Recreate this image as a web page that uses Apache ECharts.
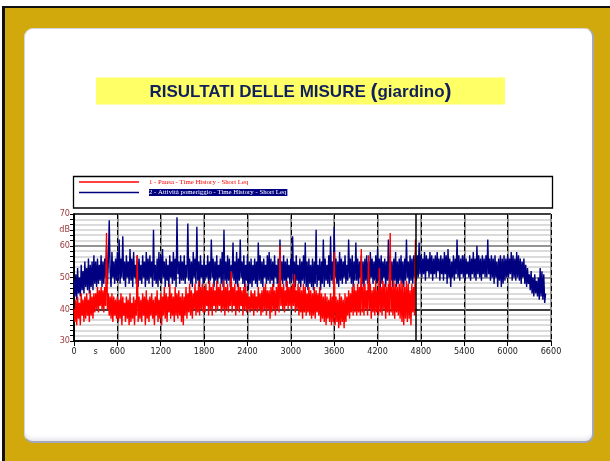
<!DOCTYPE html>
<html><head><meta charset="utf-8">
<script src="https://cdn.jsdelivr.net/npm/echarts@6/dist/echarts.min.js"></script>
<style>
html,body{margin:0;padding:0;width:610px;height:461px;overflow:hidden;background:#fff;}
#frame{position:absolute;left:2px;top:6px;width:605px;height:453px;background:#d2a90c;border-left:3px solid #111;border-top:2px solid #111;}
#panel{position:absolute;left:24px;top:28px;width:567px;height:412px;background:#fff;border-radius:9px;border:1px solid #d4d4dc;border-right:2px solid #a4a8ba;border-bottom:2px solid #a4a8ba;box-shadow:inset 0 -5px 5px -3px #e2e2e8;}
#chart{position:absolute;left:0;top:0;width:610px;height:461px;}
</style></head><body>
<div id="frame"></div><div id="panel"></div><div id="chart"></div>
<script>
// ---- data ----
const TITLE = 'RISULTATI DELLE MISURE';
const TITLE_PAREN = 'giardino';
const SERIES_NAMES = ['1 - Pausa - Time History - Short Leq', '2 - Attività pomeriggio - Time History - Short Leq'];
const SAMPLE_STEP = 12.5; // seconds between samples
const RED_END_MARK = 4730;
const Y_LABELS = {70: '70', 65: 'dB', 60: '60', 50: '50', 40: '40', 30: '30'};
const X_UNIT = 's';

// Attività pomeriggio (dB), one value every 12.5 s, rows of 300 s
const BLUE_VALUES = [
 49,44,51,43,53,45,50,44,54,46,52,45,55,47,53,46,56,45,54,47,55,46,57,48,
 55,47,56,48,54,49,57,47,55,48,56,50,60,48,55,68,52,47,58,50,55,48,56,49,
 58,49,62,48,56,50,63,49,55,47,57,50,55,48,59,49,56,47,58,50,54,48,57,47,
 56,49,54,48,57,50,55,47,58,49,56,48,57,50,55,47,65,49,54,48,56,47,58,49,
 57,48,59,50,55,47,56,49,54,47,57,50,55,48,58,49,56,47,69,51,55,48,57,49,
 55,49,57,48,54,50,67,49,56,48,55,47,58,50,56,48,66,49,55,47,57,50,54,48,
 56,49,54,50,57,48,55,49,62,50,56,47,55,49,57,48,54,50,56,48,58,47,65,49,
 55,48,57,49,56,47,54,50,61,49,55,48,58,47,56,49,62,50,55,48,57,47,54,49,
 57,46,55,48,56,47,54,49,56,48,55,47,61,49,57,48,55,47,56,50,54,48,57,49,
 58,48,56,49,55,47,57,50,54,48,56,47,62,49,55,48,57,49,55,47,56,50,54,48,
 56,49,63,48,55,47,57,49,54,48,56,47,55,49,57,48,61,47,55,46,56,48,54,47,
 56,46,55,48,65,47,54,49,56,46,55,48,62,47,56,49,54,48,57,47,63,49,55,48,
 66,50,56,48,55,47,58,49,56,48,55,50,57,48,54,49,62,50,56,48,57,47,55,49,
 61,49,56,48,55,50,57,48,55,47,56,49,57,48,55,47,58,50,56,48,55,49,57,48,
 59,49,56,47,57,48,55,50,56,47,55,49,62,48,57,49,55,47,56,49,58,47,55,48,
 56,49,57,48,55,47,56,49,62,50,55,48,57,49,56,48,57,50,58,49,57,50,61,51,
 57,50,56,51,58,49,57,52,56,50,58,51,57,49,56,51,57,50,58,52,56,49,57,51,
 56,49,58,51,57,48,59,50,56,47,55,50,57,49,56,51,62,50,57,49,56,51,57,50,
 57,49,56,51,55,50,57,49,56,51,58,50,56,49,60,51,57,50,56,49,57,51,56,50,
 57,50,62,51,56,49,57,50,56,48,57,50,55,47,56,49,57,47,56,48,57,49,56,50,
 57,50,56,51,58,49,57,50,56,49,58,50,57,49,56,48,55,50,56,48,54,47,53,48,
 51,46,52,45,50,44,51,45,49,44,50,43,53,44,52,43,51,42,45
];
// Pausa (dB), one value every 12.5 s, rows of 300 s
const RED_VALUES = [
 40,36,43,35,44,37,42,35,45,38,43,36,44,37,45,38,43,36,46,38,44,37,45,39,
 45,40,47,39,46,41,47,40,46,39,47,41,64,40,45,38,44,37,45,36,44,38,43,37,
 44,36,43,37,45,35,44,38,42,36,44,37,43,35,45,36,42,37,44,35,43,38,57,36,
 44,37,43,36,45,38,44,35,46,37,43,36,44,38,45,37,43,35,44,38,46,36,43,37,
 45,35,44,38,47,37,45,36,44,39,48,37,45,38,44,36,47,38,45,37,46,38,44,36,
 45,35,44,38,47,37,45,39,48,38,46,37,45,40,48,38,46,39,49,38,47,40,48,39,
 47,39,48,41,46,38,49,40,47,38,48,41,46,39,49,40,47,41,48,39,46,40,49,38,
 47,40,48,39,46,41,52,39,47,41,48,38,46,40,48,39,47,41,46,38,47,40,48,39,
 45,40,44,39,46,40,45,38,46,40,44,39,47,40,45,38,46,39,47,40,48,38,46,40,
 46,37,47,39,48,40,46,38,47,40,48,39,60,41,47,40,48,39,46,41,49,40,47,41,
 47,40,48,41,51,39,46,40,48,38,47,39,46,37,48,39,47,38,45,39,47,38,46,37,
 45,38,47,37,46,39,45,38,47,36,45,37,44,36,45,35,44,37,43,36,45,35,44,36,
 58,35,44,36,43,34,45,35,44,36,43,34,45,36,44,38,46,37,45,39,47,38,48,39,
 46,38,48,39,47,38,59,39,47,38,48,40,46,38,57,40,48,37,46,39,47,38,49,39,
 46,38,53,39,47,38,49,40,48,37,47,39,48,38,64,39,47,38,49,37,48,39,47,38,
 48,37,49,36,48,35,47,37,49,36,48,37,46,35,48,39,47,38,62
];

const blueData = BLUE_VALUES.map((v, i) => [i * SAMPLE_STEP, v]);
const redData = RED_VALUES.map((v, i) => [i * SAMPLE_STEP, v]);

const NARROW = "'Liberation Sans Narrow','DejaVu Sans Condensed','Liberation Sans',sans-serif";
const SERIF = "'Liberation Serif','Times New Roman',serif";
const chart = echarts.init(document.getElementById('chart'));
chart.setOption({
  animation: false,
  grid: {left: 74, right: 59, top: 214, bottom: 120, containLabel: false},
  graphic: [
    {type: 'rect', z: -10, shape: {x: 96, y: 77.5, width: 409, height: 27}, style: {fill: '#ffff66'}},
    {type: 'text', z: -9, x: 300.5, y: 92, style: {
      text: '{a|' + TITLE + ' }{p|(}{a|' + TITLE_PAREN + '}{p|)}',
      align: 'center', verticalAlign: 'middle',
      rich: {
        a: {fontFamily: "'Liberation Sans',Arial,sans-serif", fontWeight: 'bold', fontSize: 17, fill: '#10205c'},
        p: {fontFamily: "'Liberation Sans',Arial,sans-serif", fontWeight: 'bold', fontSize: 21, fill: '#10205c'}
      }
    }},
    {type: 'rect', z: -10, shape: {x: 73.5, y: 176.5, width: 479, height: 31.5}, style: {fill: '#fff', stroke: '#000', lineWidth: 1.3}}
  ],
  legend: {
    orient: 'vertical', left: 79, top: 178, itemWidth: 60, itemHeight: 1.3, itemGap: 2.5, padding: 0,
    icon: 'rect', selectedMode: false,
    data: [
      {name: SERIES_NAMES[0], textStyle: {color: '#ff0000'}},
      {name: SERIES_NAMES[1], textStyle: {color: '#ffffff'}}
    ],
    formatter: n => n === SERIES_NAMES[1] ? '{hl|' + n + '}' : n,
    textStyle: {fontFamily: SERIF, fontSize: 6.8, lineHeight: 8, padding: [0, 0, 0, 5],
      rich: {hl: {backgroundColor: '#000080', color: '#ffffff', fontFamily: SERIF, fontSize: 6.8, lineHeight: 8, padding: [0, 1, 0, 0]}}}
  },
  xAxis: [{
    type: 'value', min: 0, max: 6600, interval: 600, z: 1,
    axisLine: {show: true, onZero: false, lineStyle: {color: '#000', width: 1.5}},
    axisTick: {show: true, length: 5, lineStyle: {color: '#000'}},
    axisLabel: {fontSize: 9, color: '#222', margin: 6, fontFamily: NARROW, formatter: v => String(v)},
    splitLine: {show: true, lineStyle: {color: '#000', width: 1, type: [5, 3]}},
    name: X_UNIT, nameLocation: 'start', nameGap: -21.6,
    nameTextStyle: {fontSize: 9, color: '#222', fontFamily: NARROW, align: 'center', verticalAlign: 'top', padding: [6, 0, 0, 0]}
  }, {
    type: 'value', min: 0, max: 6600, interval: 600, z: 0, position: 'bottom',
    axisLine: {show: false}, axisTick: {show: false}, axisLabel: {show: false},
    splitLine: {show: true, lineStyle: {color: '#7a7a7a', width: 1.5}}
  }],
  yAxis: {
    type: 'value', min: 30, max: 70, interval: 5, z: 0,
    axisLine: {show: true, onZero: false, lineStyle: {color: '#000', width: 2}},
    axisTick: {show: true, length: 4, lineStyle: {color: '#000'}},
    minorTick: {show: true, splitNumber: 3, length: 4, lineStyle: {color: '#000'}},
    axisLabel: {fontSize: 9, color: '#a03a3a', margin: 4, fontFamily: NARROW, formatter: v => Y_LABELS[v] || ''},
    splitLine: {show: true, lineStyle: {width: 1.5, color: ['#000', '#cfcfcf', '#000', '#cfcfcf', '#8a8a8a', '#cfcfcf', '#707070', '#cfcfcf', '#000']}},
    minorSplitLine: {show: true, lineStyle: {color: '#cfcfcf', width: 1.5}}
  },
  series: [
    {type: 'line', name: SERIES_NAMES[1], data: blueData, symbol: 'none', showSymbol: false, z: 2,
      color: '#000080', lineStyle: {color: '#000080', width: 1.4}},
    {type: 'line', name: SERIES_NAMES[0], data: redData, symbol: 'none', showSymbol: false, z: 3,
      color: '#ff0000', lineStyle: {color: '#ff0000', width: 1.4},
      markLine: {silent: true, symbol: ['none', 'none'], label: {show: false},
        lineStyle: {color: '#000', width: 1.5, type: 'solid'}, data: [{xAxis: RED_END_MARK}]}}
  ]
});
</script></body></html>
